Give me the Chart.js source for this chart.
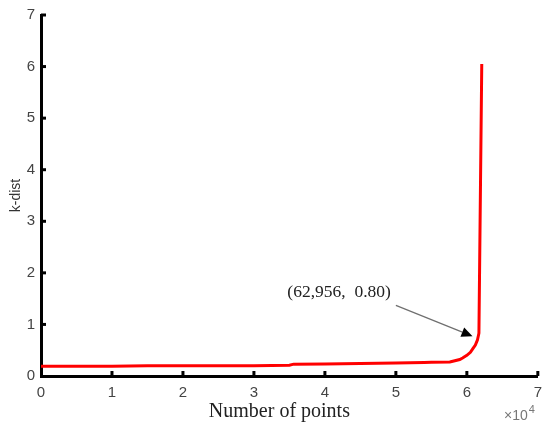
<!DOCTYPE html>
<html>
<head>
<meta charset="utf-8">
<script src="https://cdn.jsdelivr.net/npm/chart.js@4"></script>
<style>
html,body{margin:0;padding:0;background:#fff;}
#wrap{width:550px;height:427px;position:relative;}
</style>
</head>
<body>
<div id="wrap"><canvas id="c" width="550" height="427"></canvas></div>
<script>
// Data
const pointIndex = [0, 5000, 10000, 15000, 20000, 25000, 30000, 35000, 35600, 40000, 45000, 50000, 54000, 55000, 57600, 59000, 59400, 60000, 60500, 60800, 61200, 61500, 61700, 62100];
const kDist = [0.19, 0.19, 0.19, 0.2, 0.2, 0.2, 0.2, 0.21, 0.23, 0.235, 0.24, 0.25, 0.26, 0.265, 0.27, 0.32, 0.35, 0.4, 0.46, 0.52, 0.6, 0.7, 0.83, 6.05];
const xTicks = [0, 1, 2, 3, 4, 5, 6, 7];
const yTicks = [0, 1, 2, 3, 4, 5, 6, 7];
const annotationText = "(62,956,  0.80)";
const annotationTip = {x: 60800, y: 0.77};
const annotationTail = {x: 50000, y: 1.37};
const annotationLabelPos = {x: 42000, y: 1.62};

const points = pointIndex.map((x, i) => ({x: x, y: kDist[i]}));

const extras = {
  id: 'extras',
  afterDraw(chart) {
    const ctx = chart.ctx;
    const xs = chart.scales.x, ys = chart.scales.y;
    const ca = chart.chartArea;
    ctx.save();
    // inward ticks
    ctx.strokeStyle = '#000';
    ctx.lineWidth = 3;
    xTicks.forEach(t => {
      if (t === 0) return;
      const px = xs.getPixelForValue(t * 10000);
      ctx.beginPath();
      ctx.moveTo(px, ca.bottom);
      ctx.lineTo(px, ca.bottom - 5);
      ctx.stroke();
    });
    yTicks.forEach(t => {
      if (t === 0) return;
      const py = ys.getPixelForValue(t);
      ctx.beginPath();
      ctx.moveTo(ca.left, py);
      ctx.lineTo(ca.left + 5, py);
      ctx.stroke();
    });
    // annotation arrow
    const tx = xs.getPixelForValue(annotationTip.x), ty = ys.getPixelForValue(annotationTip.y);
    const sx = xs.getPixelForValue(annotationTail.x), sy = ys.getPixelForValue(annotationTail.y);
    const ang = Math.atan2(ty - sy, tx - sx);
    const hl = 11, hw = 5;
    const bx = tx - hl * Math.cos(ang), by = ty - hl * Math.sin(ang);
    ctx.strokeStyle = '#6f6f6f';
    ctx.lineWidth = 1.2;
    ctx.beginPath();
    ctx.moveTo(sx, sy);
    ctx.lineTo(bx, by);
    ctx.stroke();
    ctx.fillStyle = '#000';
    ctx.beginPath();
    ctx.moveTo(tx, ty);
    ctx.lineTo(bx + hw * Math.sin(ang), by - hw * Math.cos(ang));
    ctx.lineTo(bx - hw * Math.sin(ang), by + hw * Math.cos(ang));
    ctx.closePath();
    ctx.fill();
    // annotation label
    ctx.fillStyle = '#222';
    ctx.font = '17.5px "Liberation Serif", "DejaVu Serif", serif';
    ctx.textAlign = 'center';
    ctx.textBaseline = 'middle';
    ctx.fillText(annotationText, xs.getPixelForValue(annotationLabelPos.x), ys.getPixelForValue(annotationLabelPos.y));
    // exponent label
    ctx.fillStyle = '#777';
    ctx.font = '14px "Liberation Sans", Arial, sans-serif';
    ctx.textAlign = 'right';
    ctx.textBaseline = 'alphabetic';
    ctx.fillText('\u00d710', ca.right - 10, ca.bottom + 44);
    ctx.font = '11px "Liberation Sans", Arial, sans-serif';
    ctx.textAlign = 'left';
    ctx.fillText('4', ca.right - 9, ca.bottom + 37);
    ctx.restore();
  }
};

new Chart(document.getElementById('c'), {
  type: 'line',
  data: {
    datasets: [{
      data: points,
      borderColor: '#ff0000',
      backgroundColor: '#ff0000',
      borderWidth: 3,
      pointRadius: 0,
      tension: 0,
      fill: false
    }]
  },
  options: {
    responsive: false,
    animation: false,
    events: [],
    layout: {padding: {top: 13, right: 12, left: 0, bottom: 0}},
    plugins: {legend: {display: false}, tooltip: {enabled: false}},
    scales: {
      x: {
        type: 'linear',
        min: 0, max: 70000,
        afterFit(s) { s.height = 51; },
        afterBuildTicks(s) { s.ticks = xTicks.map(v => ({value: v * 10000})); },
        ticks: {
          callback: v => String(v / 10000),
          color: '#444',
          font: {family: '"Liberation Sans", Arial, sans-serif', size: 15},
          padding: 8,
          maxRotation: 0
        },
        grid: {display: false, drawTicks: false},
        border: {display: true, color: '#000', width: 3},
        title: {
          display: true,
          text: 'Number of points    ',
          color: '#222',
          font: {family: '"Liberation Serif", "DejaVu Serif", serif', size: 20},
          padding: {top: 0, bottom: 3}
        }
      },
      y: {
        type: 'linear',
        min: 0, max: 7,
        afterFit(s) { s.width = 41; },
        afterBuildTicks(s) { s.ticks = yTicks.map(v => ({value: v})); },
        ticks: {
          color: '#444',
          font: {family: '"Liberation Sans", Arial, sans-serif', size: 15},
          padding: 6
        },
        grid: {display: false, drawTicks: false},
        border: {display: true, color: '#000', width: 3},
        title: {
          display: true,
          text: 'k-dist',
          color: '#333',
          font: {family: '"Liberation Sans", Arial, sans-serif', size: 14},
          padding: {top: 8, bottom: 0}
        }
      }
    }
  },
  plugins: [extras]
});
</script>
</body>
</html>
